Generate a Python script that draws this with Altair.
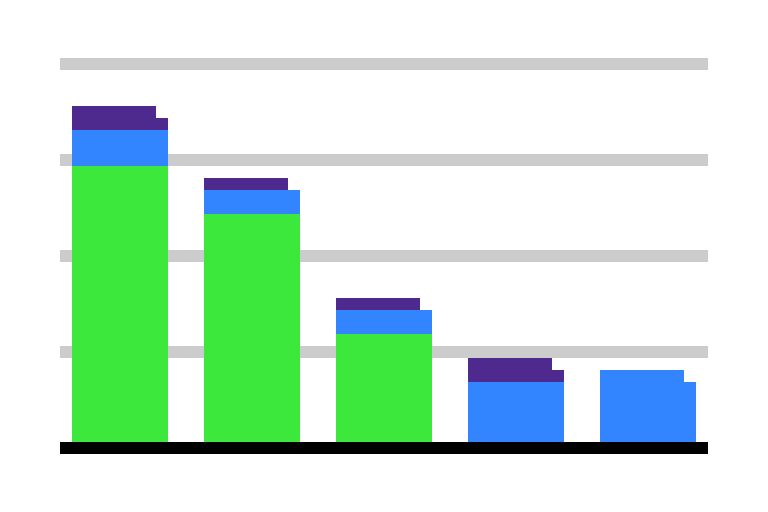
import altair as alt
import pandas as pd

categories = ["A", "B", "C", "D", "E"]
green = [2.9375, 2.4375, 1.1875, 0.0, 0.0]
blue = [0.375, 0.25, 0.25, 0.6875, 0.8125]
purple = [0.25, 0.125, 0.125, 0.25, 0.0]
grid_values = [1, 2, 3, 4]

series_names = ["green", "blue", "purple"]
series_colors = ["#3DE83D", "#3385FF", "#4E2A8E"]

rows = []
for i, c in enumerate(categories):
    for k, (name, vals) in enumerate(zip(series_names, [green, blue, purple])):
        rows.append({"cat": c, "series": name, "order": k, "value": vals[i]})
df = pd.DataFrame(rows)

totals = [g + b + p for g, b, p in zip(green, blue, purple)]
notch = pd.DataFrame({"cat": categories, "top": totals,
                      "low": [t - 0.125 for t in totals]})

yscale = alt.Scale(domain=[0, 4.0625], nice=False, zero=True)
xscale = alt.Scale(domain=categories, paddingInner=36 / 132, paddingOuter=12 / 132)

grid = alt.Chart(pd.DataFrame({"v": grid_values})).mark_rule(
    color="#CCCCCC", strokeWidth=12
).encode(y=alt.Y("v:Q", scale=yscale, axis=None))

bars = alt.Chart(df).mark_bar(stroke=None).encode(
    x=alt.X("cat:N", scale=xscale, axis=None, sort=categories),
    y=alt.Y("sum(value):Q", scale=yscale, axis=None, stack="zero"),
    color=alt.Color("series:N", scale=alt.Scale(domain=series_names, range=series_colors),
                    legend=None),
    order=alt.Order("order:Q"),
)

notches = alt.Chart(notch).mark_bar(width=12, xOffset=42, color="white").encode(
    x=alt.X("cat:N", scale=xscale, axis=None, sort=categories),
    y=alt.Y("low:Q", scale=yscale, axis=None),
    y2="top:Q",
)

base = alt.Chart(pd.DataFrame({"v": [0]})).mark_rule(
    color="black", strokeWidth=12
).encode(y=alt.Y("v:Q", scale=yscale, axis=None))

chart = alt.layer(grid, bars, notches, base).properties(
    width=648, height=390,
    background="white",
    autosize=alt.AutoSizeParams(type="none"),
    padding={"left": 52, "top": 50, "right": 52, "bottom": 50},
).configure_view(stroke=None)

chart.save("out.html", embed_options={"renderer": "svg", "actions": False})
